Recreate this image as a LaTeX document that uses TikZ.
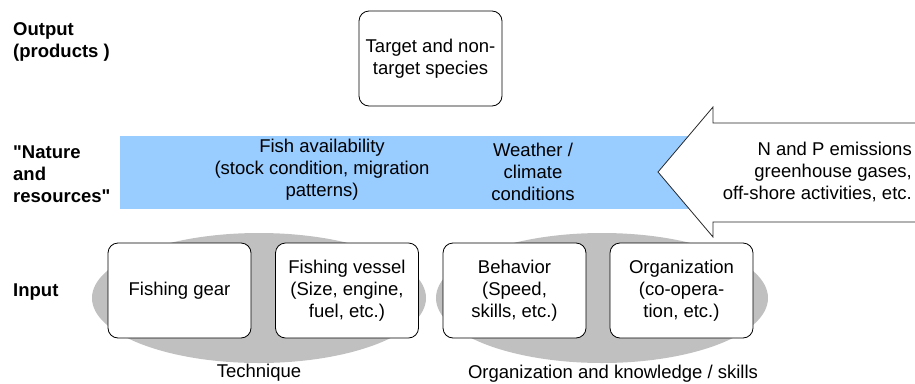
\documentclass[tikz,border=0pt]{standalone}
\usepackage{fontspec}
\setmainfont{Liberation Sans}[Ligatures=TeXOff]
\definecolor{bandblue}{HTML}{99CCFF}
\definecolor{ovalgray}{HTML}{C0C0C0}
\begin{document}
\begin{tikzpicture}[x=1pt,y=-1pt,
  every node/.style={font=\fontsize{18.5}{22}\selectfont, inner sep=0pt},
  box/.style={draw=black, line width=0.8pt, fill=white, rounded corners=10pt, align=center, minimum width=143pt, minimum height=95pt},
  lbl/.style={font=\fontsize{18.5}{22}\selectfont\bfseries, align=left, anchor=west},
  txt/.style={align=center}]
\useasboundingbox (0,0) rectangle (915,383);
% band and arrow
\fill[bandblue] (120,136) rectangle (720,209);
\draw[fill=white, line width=0.8pt, draw=black!85] (658,172) -- (713,107) -- (713,123) -- (917,123) -- (917,222) -- (713,222) -- (713,237) -- cycle;
% ovals
\fill[ovalgray] (259,298) ellipse [x radius=167pt, y radius=65pt];
\fill[ovalgray] (602,298) ellipse [x radius=166pt, y radius=65pt];
% row labels
\node[lbl] (lout) at (13,42) {Output\\(products )};
\node[lbl] (lnat) at (13,174) {"Nature\\and\\resources"};
\node[lbl] (lin) at (13,292) {Input};
% output box
\node[box] (out) at (430.5,58.5) {Target and non-\\target species};
% band texts
\node[txt] (fish) at (322,170) {Fish availability\\(stock condition, migration\\patterns)};
\node[txt] (weather) at (533,172) {Weather /\\climate\\conditions};
\node[align=right, anchor=east] (np) at (912,172) {N and P emissions\\greenhouse gases,\\off-shore activities, etc.};
% input boxes
\node[box] (gear) at (179.5,290.5) {Fishing gear};
\node[box] (vessel) at (347,290.5) {Fishing vessel\\(Size, engine,\\fuel, etc.)};
\node[box] (behav) at (514.5,290.5) {Behavior\\(Speed,\\skills, etc.)};
\node[box] (org) at (681.5,290.5) {Organization\\(co-opera-\\tion, etc.)};
% captions
\node (tech) at (259,373) {Technique};
\node (know) at (613,374) {Organization and knowledge / skills};
\end{tikzpicture}
\end{document}
